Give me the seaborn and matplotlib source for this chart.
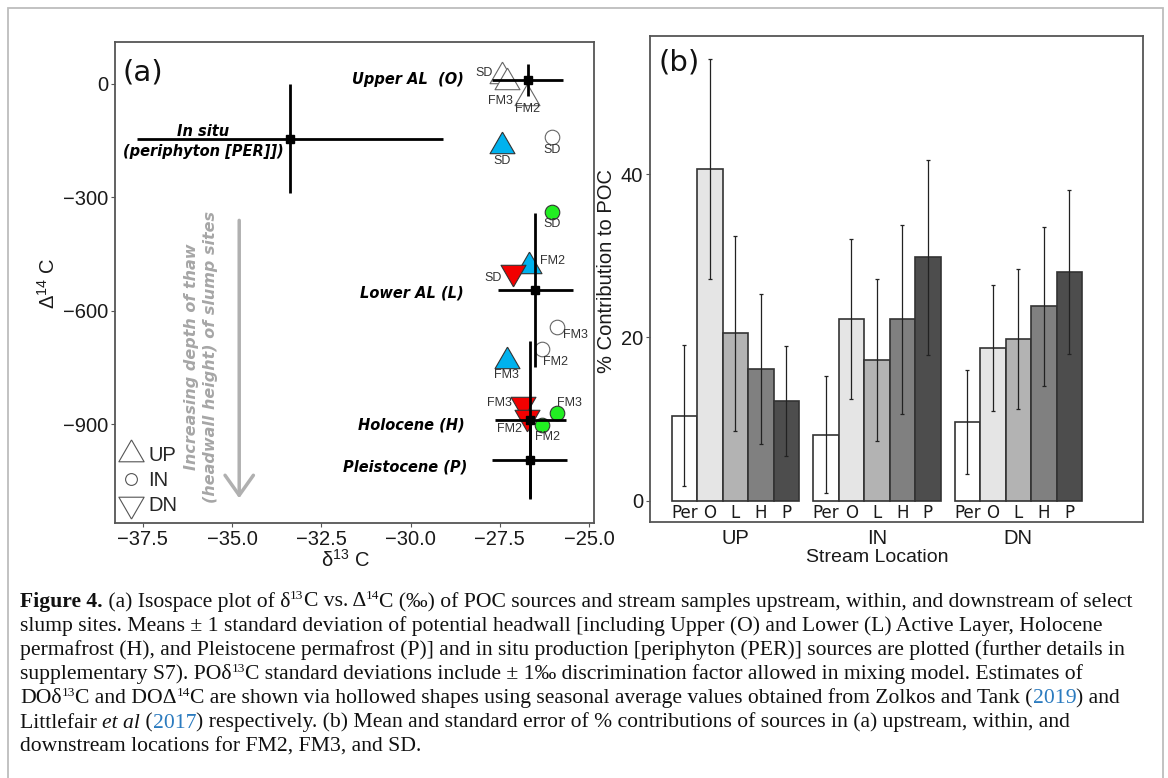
import numpy as np
import pandas as pd
import seaborn as sns
import matplotlib.pyplot as plt
from matplotlib.lines import Line2D
from matplotlib.markers import MarkerStyle
from matplotlib.patches import Rectangle
from matplotlib.font_manager import FontProperties

# ---------------- panel (a) data ----------------
# source end-members: mean +/- 1 sd
src_labels = ['Upper AL  (O)', 'In situ\n(periphyton [PER]])', 'Lower AL (L)',
              'Holocene (H)', 'Pleistocene (P)']
src_d13c = [-26.72, -33.38, -26.50, -26.64, -26.66]
src_d13c_sd = [1.00, 4.29, 1.05, 1.00, 1.05]
src_d14c = [10, -145, -546, -888, -995]
src_d14c_sd = [43, 145, 203, 208, 102]

# stream POC samples
up_sites = ['SD', 'FM2', 'FM3']
up_d13c = [-27.44, -26.68, -27.31]
up_d14c = [-166, -483, -734]

in_sites = ['SD', 'FM3', 'FM2']
in_d13c = [-26.04, -25.90, -26.32]
in_d14c = [-338, -871, -902]

dn_sites = ['SD', 'FM3', 'FM2']
dn_d13c = [-27.14, -26.85, -26.74]
dn_d14c = [-497, -847, -880]

# DOC estimates (hollow shapes)
up_do_sites = ['SD', 'FM3', 'FM2']
up_do_d13c = [-27.45, -27.30, -26.74]
up_do_d14c = [20, 5, -38]

in_do_sites = ['SD', 'FM3', 'FM2']
in_do_d13c = [-26.04, -25.90, -26.32]
in_do_d14c = [-142, -644, -702]

# ---------------- panel (b) data ----------------
locations = ['UP', 'IN', 'DN']
sources = ['Per', 'O', 'L', 'H', 'P']
contrib_up = [10.4, 40.6, 20.5, 16.1, 12.2]
contrib_in = [8.1, 22.3, 17.2, 22.2, 29.8]
contrib_dn = [9.6, 18.7, 19.8, 23.8, 28.0]
se_up = [8.65, 13.5, 11.95, 9.2, 6.7]
se_in = [7.15, 9.8, 9.9, 11.6, 11.95]
se_dn = [6.35, 7.75, 8.55, 9.7, 10.0]

W, H = 1168, 778

sns.set_theme(style='white')
plt.rcParams['font.family'] = ['Liberation Sans', 'DejaVu Sans']
plt.rcParams['mathtext.fontset'] = 'custom'
plt.rcParams['mathtext.rm'] = 'Liberation Sans'
plt.rcParams['mathtext.it'] = 'Liberation Sans:italic'
plt.rcParams['mathtext.bf'] = 'Liberation Sans:bold'

fig = plt.figure(figsize=(W / 100, H / 100), dpi=100)
fig.patch.set_facecolor('white')

ax_a = fig.add_axes([115 / W, 1 - 523 / H, 479 / W, 481 / H])
ax_b = fig.add_axes([650 / W, 1 - 522 / H, 493 / W, 486 / H])

tri_up = MarkerStyle([(0, 1), (-0.866, -0.5), (0.866, -0.5), (0, 1)])
tri_dn = MarkerStyle([(0, -1), (-0.866, 0.5), (0.866, 0.5), (0, -1)])

blue, red, green = '#00B2EE', '#F20000', '#22EE22'
tick_col = '#1a1a1a'
spine_col = '#555555'

# ---- (a) isospace plot ----
groups = [
    ('up_do', up_do_d13c, up_do_d14c, up_do_sites, tri_up, 'white', 430),
    ('in_do', in_do_d13c, in_do_d14c, in_do_sites, 'o', 'white', 110),
    ('up', up_d13c, up_d14c, up_sites, tri_up, blue, 430),
    ('in', in_d13c, in_d14c, in_sites, 'o', green, 110),
    ('dn', dn_d13c, dn_d14c, dn_sites, tri_dn, red, 430),
]
for name, xs, ys, sites, mk, col, size in groups:
    edge = '#666666' if col == 'white' else '#333333'
    sns.scatterplot(x=xs, y=ys, marker=mk, s=size, color=col, edgecolor=edge,
                    linewidth=0.8, legend=False, ax=ax_a, zorder=3)

# site labels, offsets in pixels
site_offsets = {
    ('up_do', 'SD'): (-9, 3, 'right'), ('up_do', 'FM3'): (-6, -19, 'center'),
    ('up_do', 'FM2'): (1, -11, 'center'),
    ('in_do', 'SD'): (0, -13, 'center'), ('in_do', 'FM3'): (6, -8, 'left'),
    ('in_do', 'FM2'): (1, -13, 'left'),
    ('up', 'SD'): (0, -15, 'center'), ('up', 'FM2'): (11, 5, 'left'),
    ('up', 'FM3'): (0, -14, 'center'),
    ('in', 'SD'): (0, -12, 'center'), ('in', 'FM3'): (0, 10, 'left'),
    ('in', 'FM2'): (6, -12, 'center'),
    ('dn', 'SD'): (-11, -6, 'right'), ('dn', 'FM3'): (-11, 1, 'right'),
    ('dn', 'FM2'): (-5, -12, 'right'),
}
for name, xs, ys, sites, mk, col, size in groups:
    for x, y, s in zip(xs, ys, sites):
        dx, dy, ha = site_offsets[(name, s)]
        ax_a.annotate(s, (x, y), xytext=(dx, dy), textcoords='offset pixels',
                      ha=ha, va='center', fontsize=9, color='#333333', zorder=4)

# source means +/- sd
ax_a.errorbar(src_d13c, src_d14c, xerr=src_d13c_sd, yerr=src_d14c_sd, fmt='s',
              color='black', ms=6, elinewidth=2, capsize=0, zorder=5)
src_offsets = [(-64, 0, 'right'), (-87, -3, 'center'), (-72, -3, 'right'),
               (-66, -5, 'right'), (-63, -7, 'right')]
for lab, x, y, (dx, dy, ha) in zip(src_labels, src_d13c, src_d14c, src_offsets):
    ax_a.annotate(lab, (x, y), xytext=(dx, dy), textcoords='offset pixels',
                  ha=ha, va='center', multialignment='center', fontsize=10.5,
                  family='DejaVu Sans', fontweight='bold', fontstyle='italic',
                  color='black', linespacing=1.45, zorder=6)

# thaw-depth arrow and its note
ax_a.annotate('', xy=(-34.8, -1103), xytext=(-34.8, -354),
              arrowprops=dict(arrowstyle='->,head_length=1.2,head_width=0.85',
                              color='#b0b0b0', lw=2.5))
ax_a.text(-35.87, -722, 'Increasing depth of thaw\n(headwall height) of slump sites',
          rotation=90, ha='center', va='center', multialignment='center',
          fontsize=11.5, family='DejaVu Sans', fontweight='bold', fontstyle='italic',
          color='#a6a6a6', linespacing=1.3)

ax_a.set_xlim(-38.28, -24.86)
ax_a.set_ylim(-1161, 110)
xt = [-37.5, -35.0, -32.5, -30.0, -27.5, -25.0]
ax_a.set_xticks(xt)
ax_a.set_xticklabels([f'{v:.1f}'.replace('-', '\u2212') for v in xt])
yt = [0, -300, -600, -900]
ax_a.set_yticks(yt)
ax_a.set_yticklabels([f'{v}'.replace('-', '\u2212') for v in yt])
ax_a.text(0.015, 0.965, '(a)', transform=ax_a.transAxes, ha='left', va='top',
          fontsize=21, family='DejaVu Sans', color='#111111')

leg_handles = [
    Line2D([], [], marker=tri_up, ls='none', ms=21, mfc='white', mec='#555555', mew=0.8),
    Line2D([], [], marker='o', ls='none', ms=8.5, mfc='white', mec='#555555', mew=0.8),
    Line2D([], [], marker=tri_dn, ls='none', ms=21, mfc='white', mec='#555555', mew=0.8),
]
ax_a.legend(leg_handles, ['UP', 'IN', 'DN'], loc='lower left', frameon=False,
            bbox_to_anchor=(-0.013, 0.0),
            fontsize=14.5, handlelength=1.4, handletextpad=0.17, labelspacing=0.3,
            borderaxespad=0.2, borderpad=0.2)

# ---- (b) source contributions ----
df = pd.DataFrame({
    'location': np.repeat(locations, len(sources)),
    'source': sources * len(locations),
    'contribution': contrib_up + contrib_in + contrib_dn,
    'se': se_up + se_in + se_dn,
})
bar_colors = ['#FFFFFF', '#E5E5E5', '#B3B3B3', '#808080', '#4D4D4D']
sns.barplot(data=df, x='location', y='contribution', hue='source',
            order=locations, hue_order=sources, palette=bar_colors, saturation=1,
            width=0.9, errorbar=None, edgecolor='#333333', linewidth=1.2,
            legend=False, ax=ax_b)
for cont, src in zip(ax_b.containers, sources):
    for bar, loc in zip(cont, locations):
        row = df[(df.location == loc) & (df.source == src)].iloc[0]
        xc = bar.get_x() + bar.get_width() / 2
        ax_b.errorbar(xc, row.contribution, yerr=row.se, fmt='none',
                      ecolor='#222222', elinewidth=0.9, capsize=1.5, capthick=0.9)
        ax_b.text(xc, -1.5, src, ha='center', va='center', fontsize=12,
                  family='DejaVu Sans', color='#1a1a1a')

ax_b.set_xlim(-0.603, 2.881)
ax_b.set_ylim(-2.61, 56.9)
ax_b.set_yticks([0, 20, 40])
ax_b.set_xlabel('')
ax_b.set_ylabel('')
ax_b.text(0.018, 0.975, '(b)', transform=ax_b.transAxes, ha='left', va='top',
          fontsize=21, family='DejaVu Sans', color='#111111')

for ax in (ax_a, ax_b):
    for sp in ax.spines.values():
        sp.set_color(spine_col)
        sp.set_linewidth(1.3)
    ax.set_facecolor('white')
    ax.grid(False)
    ax.tick_params(labelsize=14.5, labelcolor=tick_col, color=spine_col,
                   length=3, width=0.8, pad=2, left=True, bottom=True)
ax_b.tick_params(axis='x', length=0, pad=5)

# axis titles
fig.text(345 / W, 1 - 560 / H, '\u03b4$^{13}$ C', ha='center', va='center',
         fontsize=14.5, color=tick_col)
fig.text(48 / W, 1 - 283 / H, '\u0394$^{14}$ C', ha='center', va='center',
         rotation=90, fontsize=14.5, color=tick_col)
fig.text(877 / W, 1 - 558 / H, 'Stream Location', ha='center', va='center',
         fontsize=14, color=tick_col)
fig.text(607 / W, 1 - 271 / H, '% Contribution to POC', ha='center', va='center',
         rotation=90, fontsize=14.5, color=tick_col)

# outer frame
fig.add_artist(Rectangle((8 / W, -0.05), (1163 - 8) / W, 1.05 - 8 / H,
                         transform=fig.transFigure, fill=False,
                         edgecolor='#bdbdbd', lw=1.3))

# ---- caption ----
caption = [
    [('Figure 4.', 'b'), (' (a) Isospace plot of \u03b4', ''), ('13', 's'),
     ('C vs. \u0394', ''), ('14', 's'),
     ('C (\u2030) of POC sources and stream samples upstream, within, and downstream of select', '')],
    [('slump sites. Means \u00b1 1 standard deviation of potential headwall [including Upper (O) '
      'and Lower (L) Active Layer, Holocene', '')],
    [('permafrost (H), and Pleistocene permafrost (P)] and in situ production [periphyton (PER)] '
      'sources are plotted (further details in', '')],
    [('supplementary S7). PO\u03b4', ''), ('13', 's'),
     ('C standard deviations include \u00b1 1\u2030 discrimination factor allowed in mixing model. '
      'Estimates of', '')],
    [('DO\u03b4', ''), ('13', 's'), ('C and DO\u0394', ''), ('14', 's'),
     ('C are shown via hollowed shapes using seasonal average values obtained from Zolkos and Tank (', ''),
     ('2019', 'c'), (') and', '')],
    [('Littlefair ', ''), ('et al', 'i'), (' (', ''), ('2017', 'c'),
     (') respectively. (b) Mean and standard error of % contributions of sources in (a) upstream, '
      'within, and', '')],
    [('downstream locations for FM2, FM3, and SD.', '')],
]

renderer = fig.canvas.get_renderer()
cap_size = 15.6


def text_width(s, prop):
    w1 = renderer.get_text_width_height_descent(s + '|', prop, ismath=False)[0]
    w2 = renderer.get_text_width_height_descent('|', prop, ismath=False)[0]
    return w1 - w2


for i, parts in enumerate(caption):
    x = 20.0
    base = 606.5 + 24.2 * i
    for txt, style in parts:
        size = cap_size * 0.62 if 's' in style else cap_size
        prop = FontProperties(family='Liberation Serif', size=size,
                              weight='bold' if 'b' in style else 'normal',
                              style='italic' if 'i' in style else 'normal')
        y = base - (7.5 if 's' in style else 0)
        fig.text(x / W, 1 - y / H, txt, fontproperties=prop, ha='left', va='baseline',
                 color='#2b7bbf' if 'c' in style else '#111111')
        x += text_width(txt, prop)

fig.savefig('out.png', dpi=100, facecolor='white')
